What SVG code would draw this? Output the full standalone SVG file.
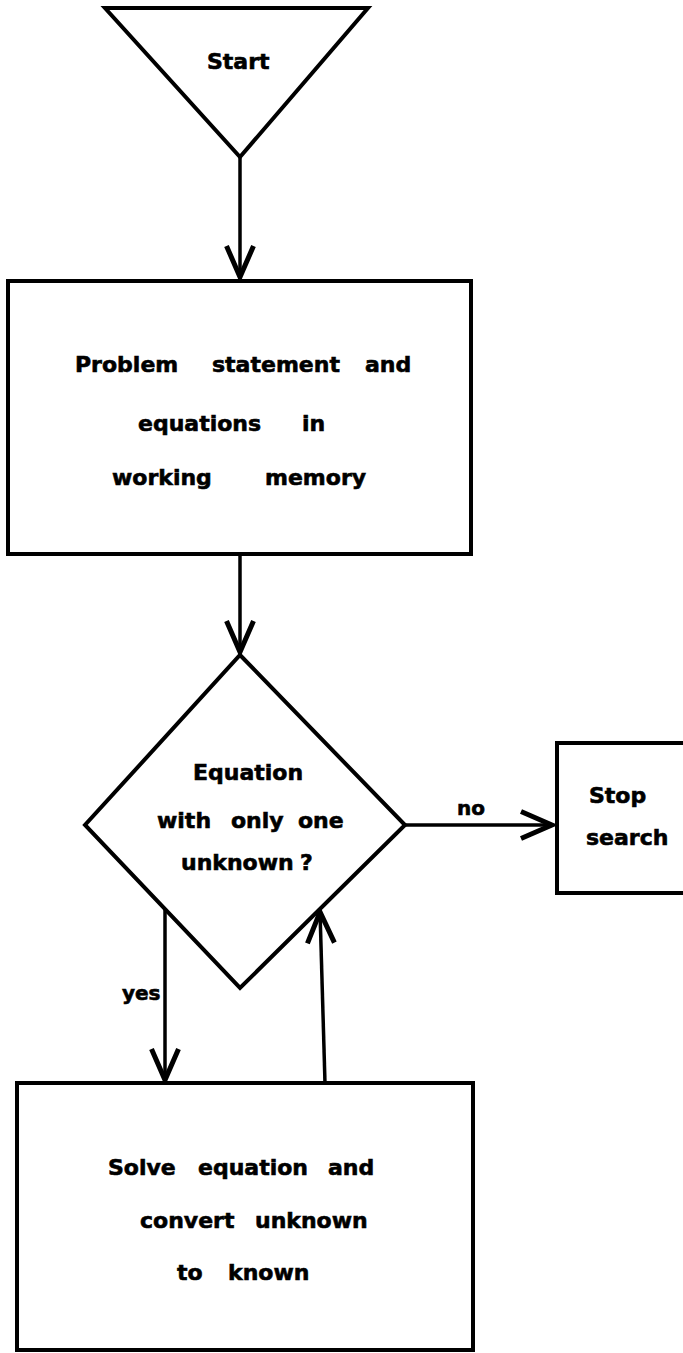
<svg xmlns="http://www.w3.org/2000/svg" width="683" height="1353" viewBox="0 0 683 1353">
<style>
.shape{fill:#fff;stroke:#000;stroke-width:4;stroke-linejoin:miter}
.conn{fill:none;stroke:#000;stroke-width:3.5}
.lbl{font-family:"DejaVu Sans","Liberation Sans",sans-serif;font-weight:bold;font-size:22px;fill:#000;stroke:#000;stroke-width:0.6}
.sm{font-size:20px}
</style>
<defs>
<marker id="arr" markerUnits="userSpaceOnUse" markerWidth="40" markerHeight="40" viewBox="-36 -20 40 40" refX="0" refY="0" orient="auto">
<path d="M-32,-13.5 L-1,0 L-32,13.5" fill="none" stroke="#000" stroke-width="5" stroke-linejoin="miter" stroke-miterlimit="10"/>
</marker>
</defs>
<rect width="683" height="1353" fill="#fff"/>
<g id="connectors">
<line class="conn" x1="240" y1="157" x2="240" y2="278" marker-end="url(#arr)"/>
<line class="conn" x1="240" y1="554" x2="240" y2="653" marker-end="url(#arr)"/>
<line class="conn" x1="405" y1="825" x2="553" y2="825" marker-end="url(#arr)"/>
<line class="conn" x1="165" y1="909" x2="165" y2="1081" marker-end="url(#arr)"/>
<line class="conn" x1="325" y1="1083" x2="320" y2="911" marker-end="url(#arr)"/>
<text class="lbl sm" x="457" y="815">no</text>
<text class="lbl sm" x="122" y="1000">yes</text>
</g>
<g id="start">
<polygon class="shape" points="105,8 368,8 240,157"/>
<text class="lbl" x="207" y="69">Start</text>
</g>
<g id="problem">
<rect class="shape" x="8" y="281" width="463" height="273"/>
<text class="lbl" y="372"><tspan x="75">Problem</tspan> <tspan x="212">statement</tspan> <tspan x="365">and</tspan></text>
<text class="lbl" y="431"><tspan x="138">equations</tspan> <tspan x="302">in</tspan></text>
<text class="lbl" y="485"><tspan x="112">working</tspan> <tspan x="265">memory</tspan></text>
</g>
<g id="decision">
<polygon class="shape" points="240,655 405,825 240,988 85,825"/>
<text class="lbl" y="780"><tspan x="193">Equation</tspan></text>
<text class="lbl" y="828"><tspan x="157">with</tspan> <tspan x="231">only</tspan> <tspan x="298">one</tspan></text>
<text class="lbl" y="870"><tspan x="181">unknown</tspan><tspan x="300">?</tspan></text>
</g>
<g id="stop">
<rect class="shape" x="557" y="743" width="140" height="150"/>
<text class="lbl" x="589" y="803">Stop</text>
<text class="lbl" x="586" y="845">search</text>
</g>
<g id="solve">
<rect class="shape" x="17" y="1083" width="456" height="267"/>
<text class="lbl" y="1175"><tspan x="108">Solve</tspan> <tspan x="198">equation</tspan> <tspan x="328">and</tspan></text>
<text class="lbl" y="1228"><tspan x="140">convert</tspan> <tspan x="255">unknown</tspan></text>
<text class="lbl" y="1280"><tspan x="177">to</tspan> <tspan x="228">known</tspan></text>
</g>
</svg>
